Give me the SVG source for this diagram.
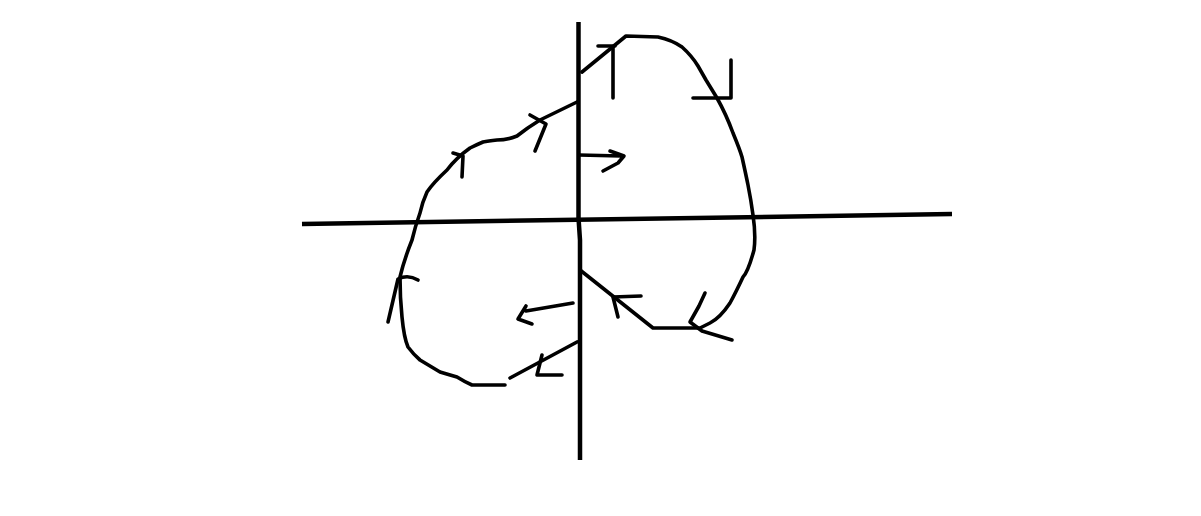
<svg xmlns="http://www.w3.org/2000/svg" width="1201" height="516" viewBox="0 0 1201 516">
<style>
.ax{stroke:#000;stroke-width:4.5;fill:none;stroke-linecap:butt}
.s{stroke:#000;stroke-width:3.6;fill:none;stroke-linecap:round;stroke-linejoin:round}
</style>
<rect width="1201" height="516" fill="#fff"/>
<g id="axes">
<path class="ax" d="M578.5,22 L578.5,218 L580,240 L580,460"/>
<path class="ax" d="M302,224 L952,214"/>
</g>
<g id="curves">
<path class="s" d="M582,72 L626,36 L658,37 Q672,40 682,47 Q692,56 698,66 L706,80 L717,98 Q726,114 733,133 Q740,150 742,157 Q746,175 748,185 Q751,200 753,215 Q756,235 754,250 Q748,272 743,277 Q736,292 730,303 Q720,318 710,323 L700,328 L653,328 L580,270"/>
<path class="s" d="M577,102 L540,120 Q527,128 517,136 Q507,140 497,140 Q488,141 483,142 Q476,145 470,148 Q456,158 447,170 Q433,183 427,192 Q422,203 420,213 Q415,227 412,240 Q404,260 400,277 Q400,298 402,317 Q404,338 408,347 Q414,355 420,360 Q430,366 440,372 Q450,375 457,377 Q465,382 472,385 L505,385"/>
<path class="s" d="M510,378 L577,342"/>
</g>
<g id="arrows">
<path class="s" d="M598,46 L615,46 M613,47 L613,98"/>
<path class="s" d="M731,60 L731,98 L693,98"/>
<path class="s" d="M579,155 L621,156 M610,151 L624,156 L618,163 L603,171"/>
<path class="s" d="M705,293 L699,306 L690,322 L702,331 L732,340"/>
<path class="s" d="M641,296 L613,297 L618,317"/>
<path class="s" d="M573,303 L526,311 M526,306 L518,319 L532,324"/>
<path class="s" d="M542,355 L537,375 L562,375"/>
<path class="s" d="M388,322 L398,279 Q408,274 418,280"/>
<path class="s" d="M453,153 L463,156 L462,177"/>
<path class="s" d="M530,115 L546,124 L535,151"/>
</g>
</svg>
